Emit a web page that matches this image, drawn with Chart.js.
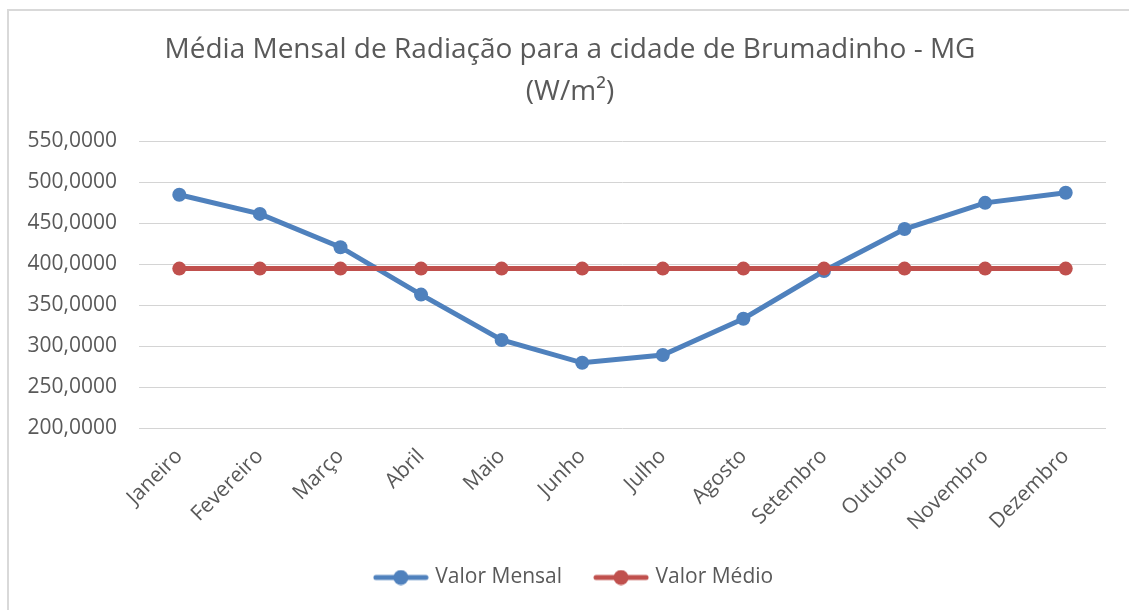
<!DOCTYPE html>
<html>
<head>
<meta charset="utf-8">
<script src="https://cdn.jsdelivr.net/npm/chart.js@4/dist/chart.umd.min.js"></script>
<style>
  html, body { margin: 0; padding: 0; background: #ffffff; }
  #wrap { position: relative; width: 1129px; height: 610px; overflow: hidden; }
  #frame { position: absolute; left: 7px; top: 9px; width: 1200px; height: 700px;
           border-left: 2px solid #d9d9d9; border-top: 2px solid #d9d9d9; }
  #c { position: absolute; left: 0; top: 0; }
</style>
</head>
<body>
<div id="wrap">
  <div id="frame"></div>
  <canvas id="c" width="1129" height="610"></canvas>
</div>
<script>
const months = ['Janeiro', 'Fevereiro', 'Março', 'Abril', 'Maio', 'Junho', 'Julho', 'Agosto', 'Setembro', 'Outubro', 'Novembro', 'Dezembro'];
const valorMensal = [484.5, 461.1, 420.5, 362.7, 307.4, 279.5, 289.0, 333.2, 391.4, 442.6, 474.6, 486.9];
const valorMedio = [394.4, 394.4, 394.4, 394.4, 394.4, 394.4, 394.4, 394.4, 394.4, 394.4, 394.4, 394.4];
const seriesNames = ['Valor Mensal', 'Valor Médio'];
const titleLines = ['Média Mensal de Radiação para a cidade de Brumadinho - MG', '(W/m²)'];

const BLUE = '#4F81BD';
const RED = '#C0504D';
const TEXT = '#595959';
const FONT = "'Open Sans', sans-serif";

function legendIcon(color) {
  const cv = document.createElement('canvas');
  cv.width = 56; cv.height = 16;
  const g = cv.getContext('2d');
  g.strokeStyle = color; g.lineWidth = 5; g.lineCap = 'round';
  g.beginPath(); g.moveTo(3, 8); g.lineTo(53, 8); g.stroke();
  g.fillStyle = color;
  g.beginPath(); g.arc(28, 8, 7.5, 0, Math.PI * 2); g.fill();
  return cv;
}
const icons = [legendIcon(BLUE), legendIcon(RED)];

// shift centered title / legend blocks to match the reference's centring
const shiftBlocks = {
  id: 'shiftBlocks',
  afterLayout: function (chart) {
    if (chart.titleBlock) { chart.titleBlock.left += 17; chart.titleBlock.right += 17; }
    if (chart.legend) { chart.legend.left += 22; chart.legend.right += 22; }
  }
};

new Chart(document.getElementById('c'), {
  type: 'line',
  data: {
    labels: months,
    datasets: [
      { label: seriesNames[0], data: valorMensal, borderColor: BLUE, backgroundColor: BLUE,
        borderWidth: 5, pointRadius: 7, pointHoverRadius: 7, pointBorderWidth: 0, tension: 0, order: 1 },
      { label: seriesNames[1], data: valorMedio, borderColor: RED, backgroundColor: RED,
        borderWidth: 5, pointRadius: 7, pointHoverRadius: 7, pointBorderWidth: 0, tension: 0, order: 0 }
    ]
  },
  plugins: [shiftBlocks],
  options: {
    responsive: false,
    animation: false,
    layout: { padding: { left: 0, right: 23, top: 0, bottom: 12 } },
    plugins: {
      tooltip: { enabled: false },
      title: {
        display: true,
        text: titleLines,
        color: TEXT,
        font: { family: FONT, size: 28, weight: 'normal', lineHeight: 42 / 28 },
        padding: { top: 29, bottom: 28 }
      },
      legend: {
        position: 'bottom',
        labels: {
          color: TEXT,
          font: { family: FONT, size: 21 },
          usePointStyle: true,
          pointStyleWidth: 48,
          padding: 35,
          sort: function (a, b) { return a.datasetIndex - b.datasetIndex; },
          generateLabels: function (chart) {
            const items = Chart.defaults.plugins.legend.labels.generateLabels(chart);
            items.forEach(function (it) { it.pointStyle = icons[it.datasetIndex]; });
            return items;
          }
        }
      }
    },
    scales: {
      x: {
        offset: true,
        grid: { display: false, drawTicks: false },
        border: { display: false },
        ticks: { color: TEXT, font: { family: FONT, size: 21 }, maxRotation: 45, minRotation: 45, padding: 16, autoSkip: false },
        afterFit: function (s) { s.height = 104; }
      },
      y: {
        min: 200, max: 550,
        grid: { color: '#d4d4d4', lineWidth: 1, drawTicks: false },
        border: { display: false },
        ticks: {
          stepSize: 50, color: TEXT, font: { family: FONT, size: 21 }, padding: 22,
          callback: function (v) { return v.toFixed(4).replace('.', ','); }
        },
        afterFit: function (s) { s.width = 139; }
      }
    }
  }
});
</script>
</body>
</html>
